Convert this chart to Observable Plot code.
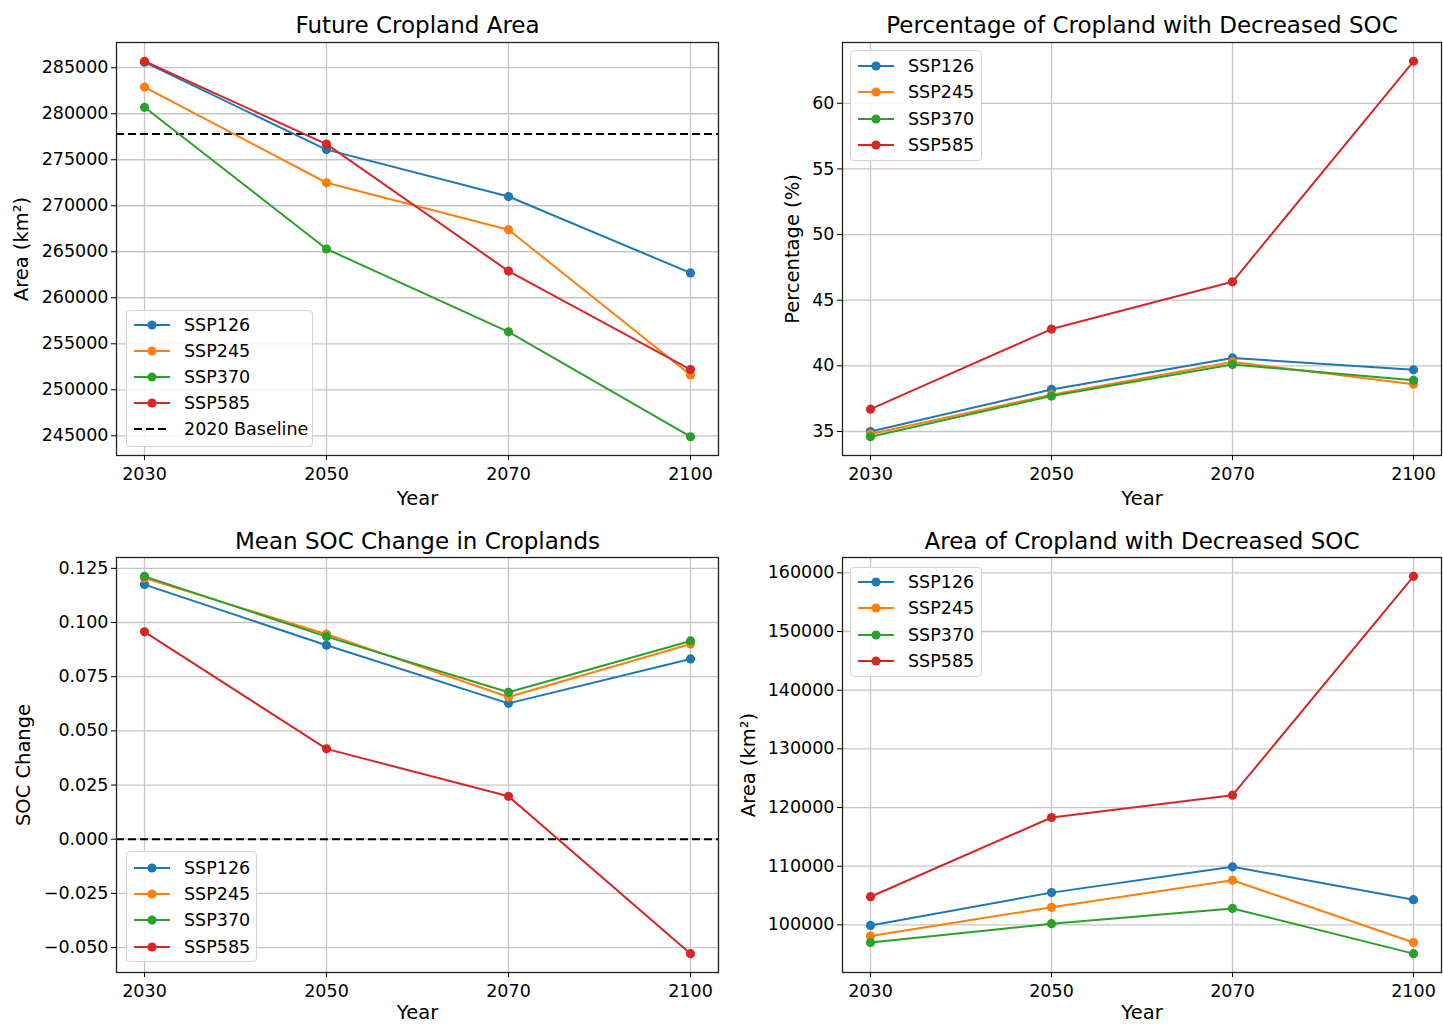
<!DOCTYPE html>
<html><head><meta charset="utf-8">
<script src="https://cdn.jsdelivr.net/npm/d3@7"></script>
<script src="https://cdn.jsdelivr.net/npm/@observablehq/plot@0.6"></script>
<style>
body{margin:0;background:#fff;}
#root{position:relative;width:1443px;height:1024px;background:#fff;font-family:"DejaVu Sans",sans-serif;overflow:hidden;}
.panel{position:absolute;}
.panel svg{overflow:visible;}
.legend{position:absolute;box-sizing:border-box;border:1px solid #d4d4d4;border-radius:4px;background:rgba(255,255,255,0.85);font-size:17.5px;color:#000;}
.row{position:absolute;left:0;height:26px;display:flex;align-items:center;white-space:nowrap;}
.row svg{display:block;}
</style></head><body><div id="root"></div><script>
// ---- data ----
const years = [2030, 2050, 2070, 2100];
const scenarios = ["SSP126", "SSP245", "SSP370", "SSP585"];
const colors = ["#1f77b4", "#ff7f0e", "#2ca02c", "#d62728"];

// Future cropland area (km²), rows in scenario order
const croplandArea = [
  [285600, 276100, 271000, 262700],
  [282900, 272500, 267400, 251600],
  [280700, 265300, 256300, 244900],
  [285700, 276700, 262900, 252200]
];
const baselineArea2020 = 277800;
const croplandAreaTicks = [245000, 250000, 255000, 260000, 265000, 270000, 275000, 280000, 285000];

// Percentage of cropland with decreased SOC (%)
const decreasedPct = [
  [35.0, 38.2, 40.6, 39.7],
  [34.8, 37.8, 40.3, 38.6],
  [34.6, 37.7, 40.1, 38.9],
  [36.7, 42.8, 46.4, 63.2]
];
const decreasedPctTicks = [35, 40, 45, 50, 55, 60];

// Mean SOC change in croplands
const meanSocChange = [
  [0.1175, 0.0895, 0.0627, 0.0832],
  [0.1205, 0.0946, 0.0656, 0.0901],
  [0.1213, 0.0935, 0.0678, 0.0915],
  [0.0957, 0.0417, 0.0198, -0.0528]
];
const socZeroLine = 0;
const meanSocTicks = [-0.05, -0.025, 0, 0.025, 0.05, 0.075, 0.1, 0.125];

// Area of cropland with decreased SOC (km²)
const decreasedArea = [
  [99900, 105500, 109900, 104300],
  [98100, 103000, 107600, 97000],
  [97000, 100200, 102800, 95100],
  [104800, 118300, 122100, 159400]
];
const decreasedAreaTicks = [100000, 110000, 120000, 130000, 140000, 150000, 160000];

// ---- drawing ----
const root = document.getElementById("root");
const GRID = "#c6c6c6";

function makePanel(cfg) {
  const data = scenarios.flatMap((s, i) => years.map((y, j) => ({scenario: s, year: y, value: cfg.values[i][j]})));
  const vals = data.map(d => d.value).concat(cfg.baseline != null ? [cfg.baseline] : []);
  const [lo, hi] = d3.extent(vals);
  const pad = (hi - lo) * 0.05;
  const marks = [
    Plot.gridX({stroke: GRID, strokeOpacity: 1, strokeWidth: 1.3}),
    Plot.gridY(cfg.ticks, {stroke: GRID, strokeOpacity: 1, strokeWidth: 1.3}),
  ];
  if (cfg.baseline != null) {
    marks.push(Plot.ruleY([cfg.baseline], {stroke: "#000", strokeWidth: 2, strokeDasharray: "8,4"}));
  }
  scenarios.forEach((s, i) => {
    const sub = data.filter(d => d.scenario === s);
    marks.push(Plot.line(sub, {x: "year", y: "value", stroke: colors[i], strokeWidth: 2}));
    marks.push(Plot.dot(sub, {x: "year", y: "value", fill: colors[i], r: 4.6}));
  });
  marks.push(
    Plot.frame({stroke: "#222", strokeWidth: 1.3}),
    Plot.axisX({tickSize: 5, tickPadding: 7, fontSize: 17.5, label: null, tickFormat: d => String(d)}),
    Plot.axisY(cfg.ticks, {tickSize: 5, tickPadding: 3, fontSize: 17.5, label: null, tickFormat: cfg.fmt}),
    Plot.text([cfg.title], {text: d => d, frameAnchor: "top", lineAnchor: "middle", textAnchor: "middle", dy: cfg.titleDy, fontSize: 23}),
    Plot.text(["Year"], {text: d => d, frameAnchor: "bottom", lineAnchor: "middle", textAnchor: "middle", dy: cfg.yearDy, fontSize: 19.5}),
    Plot.text([cfg.ylabel], {text: d => d, frameAnchor: "left", lineAnchor: "middle", textAnchor: "middle", dx: cfg.ylabelDx, rotate: -90, fontSize: 19.5})
  );
  const chart = Plot.plot({
    width: cfg.width, height: cfg.height,
    marginLeft: cfg.mL, marginRight: cfg.mR, marginTop: cfg.mT, marginBottom: cfg.mB,
    x: {type: "point", domain: years, padding: 0.15},
    y: {domain: [lo - pad, hi + pad]},
    style: {fontFamily: "DejaVu Sans, sans-serif", fontSize: "17.5px", color: "#000", background: "transparent", overflow: "visible"},
    marks
  });
  const div = document.createElement("div");
  div.className = "panel";
  div.style.left = cfg.left + "px";
  div.style.top = cfg.top + "px";
  div.appendChild(chart);
  root.appendChild(div);

  // legend overlay
  const lg = document.createElement("div");
  lg.className = "legend";
  lg.style.left = cfg.legend.x + "px";
  lg.style.top = cfg.legend.y + "px";
  lg.style.width = cfg.legend.w + "px";
  lg.style.height = cfg.legend.h + "px";
  const items = scenarios.map((s, i) => ({label: s, color: colors[i], dashed: false}));
  if (cfg.baseline != null && cfg.baselineLabel) items.push({label: cfg.baselineLabel, color: "#000", dashed: true});
  items.forEach((it, k) => {
    const row = document.createElement("div");
    row.className = "row";
    row.style.top = (cfg.legend.first + k * cfg.legend.step - 13) + "px";
    const sym = it.dashed
      ? `<line x1="7" x2="43" y1="13" y2="13" stroke="#000" stroke-width="2" stroke-dasharray="8,4"/>`
      : `<line x1="7" x2="43" y1="13" y2="13" stroke="${it.color}" stroke-width="2"/><circle cx="25" cy="13" r="4.6" fill="${it.color}"/>`;
    row.innerHTML = `<svg width="57" height="26">${sym}</svg><span>${it.label}</span>`;
    lg.appendChild(row);
  });
  root.appendChild(lg);
}

makePanel({
  left: 0, top: 0, width: 730, height: 520, mL: 116, mR: 12, mT: 42, mB: 65,
  values: croplandArea, ticks: croplandAreaTicks, fmt: d3.format("d"),
  baseline: baselineArea2020, baselineLabel: "2020 Baseline",
  title: "Future Cropland Area", titleDy: -17, yearDy: 43, ylabel: "Area (km²)", ylabelDx: -95,
  legend: {x: 126, y: 310, w: 187, h: 137, first: 14, step: 26.1}
});
makePanel({
  left: 730, top: 0, width: 713, height: 520, mL: 112, mR: 2, mT: 42, mB: 65,
  values: decreasedPct, ticks: decreasedPctTicks, fmt: d3.format("d"),
  baseline: null,
  title: "Percentage of Cropland with Decreased SOC", titleDy: -17, yearDy: 43, ylabel: "Percentage (%)", ylabelDx: -50,
  legend: {x: 850, y: 50, w: 132, h: 111, first: 15, step: 26.3}
});
makePanel({
  left: 0, top: 520, width: 730, height: 504, mL: 116, mR: 12, mT: 37, mB: 52,
  values: meanSocChange, ticks: meanSocTicks, fmt: d3.format(".3f"),
  baseline: socZeroLine, baselineLabel: null,
  title: "Mean SOC Change in Croplands", titleDy: -16, yearDy: 40, ylabel: "SOC Change", ylabelDx: -93,
  legend: {x: 126, y: 851, w: 131, h: 111, first: 15.7, step: 26.3}
});
makePanel({
  left: 730, top: 520, width: 713, height: 504, mL: 112, mR: 2, mT: 37, mB: 52,
  values: decreasedArea, ticks: decreasedAreaTicks, fmt: d3.format("d"),
  baseline: null,
  title: "Area of Cropland with Decreased SOC", titleDy: -16, yearDy: 40, ylabel: "Area (km²)", ylabelDx: -94,
  legend: {x: 850, y: 567, w: 132, h: 110, first: 14, step: 26.3}
});
</script></body></html>
